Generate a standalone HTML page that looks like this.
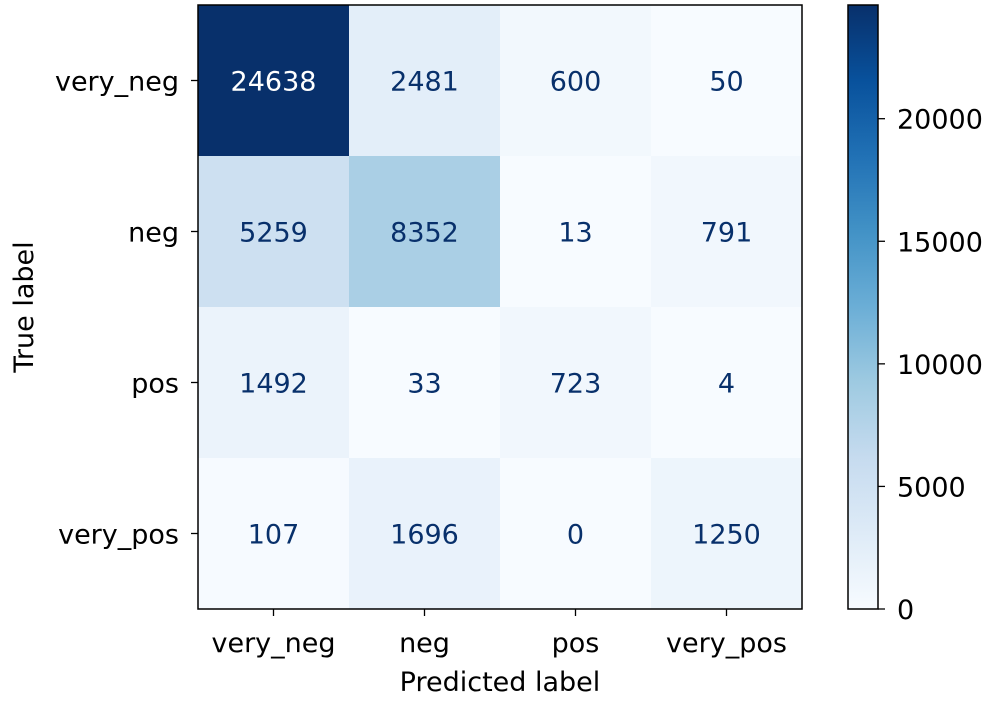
<!DOCTYPE html>
<html><head><meta charset="utf-8"><style>
body{margin:0;background:#fff}
svg{display:block;font-family:"DejaVu Sans","Liberation Sans",sans-serif}
</style></head><body>
<svg id="chart" width="993" height="710" viewBox="0 0 993 710">
<defs><linearGradient id="cb" x1="0" y1="1" x2="0" y2="0">
<stop offset="0" stop-color="#f7fbff"/><stop offset="0.125" stop-color="#deebf7"/><stop offset="0.25" stop-color="#c6dbef"/><stop offset="0.375" stop-color="#9ecae1"/><stop offset="0.5" stop-color="#6baed6"/><stop offset="0.625" stop-color="#4292c6"/><stop offset="0.75" stop-color="#2171b5"/><stop offset="0.875" stop-color="#08519c"/><stop offset="1" stop-color="#08306b"/>
</linearGradient></defs>
<g id="cells"></g>
<g id="axes"></g>
</svg>
<script>
const trueLabels=["very_neg","neg","pos","very_pos"];
const predLabels=["very_neg","neg","pos","very_pos"];
const row0=[24638,2481,600,50];
const row1=[5259,8352,13,791];
const row2=[1492,33,723,4];
const row3=[107,1696,0,1250];
const matrix=[row0,row1,row2,row3];
const cbTicks=[0,5000,10000,15000,20000];

const NS="http://www.w3.org/2000/svg";
const FS=27;
const L=198,T=5,W=604,H=604,n=4,cw=W/n,ch=H/n;
const vmin=0,vmax=Math.max(...matrix.flat());
const stops=["#f7fbff","#deebf7","#c6dbef","#9ecae1","#6baed6","#4292c6","#2171b5","#08519c","#08306b"].map(h=>[1,3,5].map(i=>parseInt(h.substr(i,2),16)));
function color(v){let t=(v-vmin)/(vmax-vmin)*8;let i=Math.min(7,Math.floor(t));let f=t-i;
 const c=stops[i].map((a,k)=>Math.round(a+(stops[i+1][k]-a)*f));return `rgb(${c})`;}
const xPos=j=>L+cw*(j+0.5), yPos=i=>T+ch*(i+0.5);
function mk(tag,attrs,parent,text){const e=document.createElementNS(NS,tag);for(const k in attrs)e.setAttribute(k,attrs[k]);if(text!==undefined)e.textContent=text;parent.appendChild(e);return e;}
const cells=document.getElementById('cells'),axes=document.getElementById('axes');
matrix.forEach((row,i)=>row.forEach((v,j)=>{
 const r=mk('rect',{x:L+cw*j,y:T+ch*i,width:cw+0.5,height:ch+0.5,fill:color(v)},cells);
 
 
 const t=mk('text',{x:xPos(j),y:yPos(i)+10,'text-anchor':'middle','font-size':FS,fill:(v-vmin)/(vmax-vmin)>0.5?'#fff':'#08306b'},cells,String(v));
 
 
}));
mk('rect',{x:L,y:T,width:W,height:H,fill:'none',stroke:'#000','stroke-width':1.5},axes);
predLabels.forEach((lab,j)=>{mk('line',{x1:xPos(j),x2:xPos(j),y1:T+H,y2:T+H+7,stroke:'#000','stroke-width':1.3},axes);
 const t=mk('text',{x:xPos(j),y:T+H+43,'text-anchor':'middle','font-size':FS},axes,lab);
 });
trueLabels.forEach((lab,i)=>{mk('line',{x1:L-7,x2:L,y1:yPos(i),y2:yPos(i),stroke:'#000','stroke-width':1.3},axes);
 const t=mk('text',{x:L-19,y:yPos(i)+10,'text-anchor':'end','font-size':FS},axes,lab);
 });
let xt=mk('text',{x:L+W/2,y:691,'text-anchor':'middle','font-size':FS},axes,'Predicted label');

let yt=mk('text',{x:0,y:0,'text-anchor':'middle','font-size':FS,transform:`translate(33,${T+H/2}) rotate(-90)`},axes,'True label');

const CX=848,CW=30;
const cb=mk('rect',{x:CX,y:T,width:CW,height:H,fill:'url(#cb)',stroke:'#000','stroke-width':1.5},axes);

const cbY=v=>T+H-(v-vmin)/(vmax-vmin)*H;
cbTicks.forEach(v=>{mk('line',{x1:CX+CW,x2:CX+CW+7,y1:cbY(v),y2:cbY(v),stroke:'#000','stroke-width':1.3},axes);
 const t=mk('text',{x:CX+CW+19,y:cbY(v)+10,'font-size':FS},axes,String(v));
 });
</script>
</body></html>
